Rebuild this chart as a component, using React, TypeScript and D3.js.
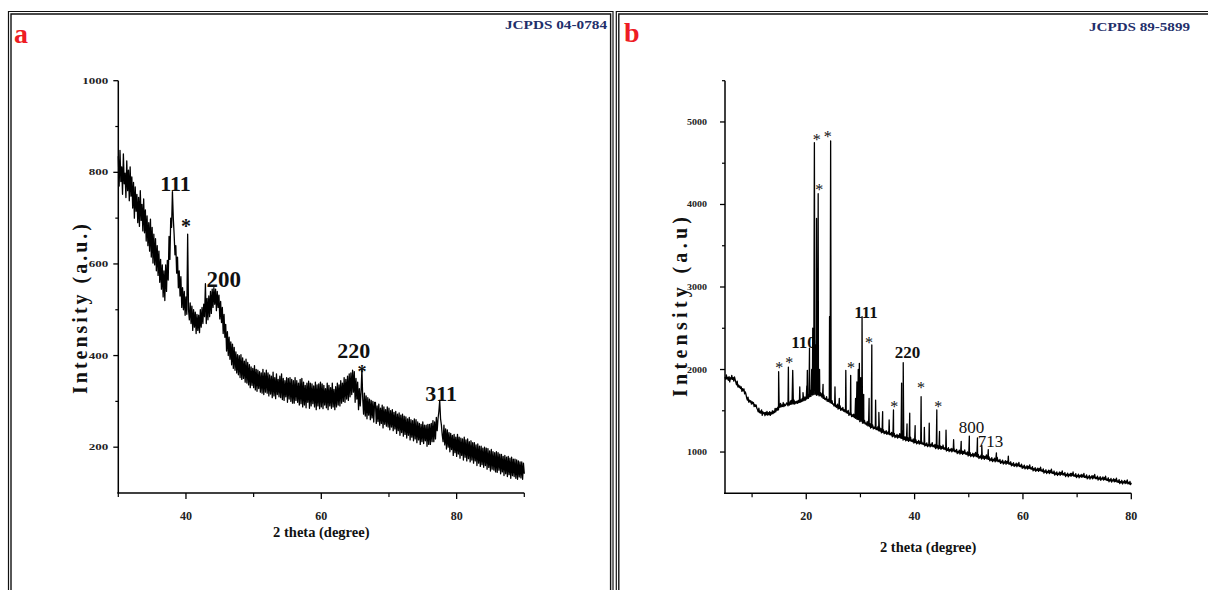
import React from 'react';
import * as d3 from 'd3';

// ---------- Panel a : XRD counts, regular 2θ grid (start 30°, step 0.125°) ----------
const A_START = 30;
const A_STEP = 0.125;
const aCounts = [
  835, 770, 848, 780, 812, 752, 840, 775, 798, 745, 825, 760, 805, 738, 812, 748,
  790, 722, 778, 700, 768, 715, 752, 690, 745, 682, 760, 695, 730, 672, 742, 668,
  718, 650, 705, 640, 690, 628, 698, 615, 680, 602, 665, 598, 655, 585, 640, 575,
  628, 560, 610, 545, 598, 528, 585, 520, 598, 540, 608, 565, 660, 610, 700, 680,
  758, 700, 665, 620, 640, 580, 615, 548, 585, 530, 572, 505, 548, 500, 540, 488,
  528, 490, 665, 500, 478, 515, 470, 508, 455, 500, 462, 495, 448, 490, 455, 488,
  450, 500, 462, 505, 470, 512, 485, 557, 470, 525, 478, 530, 485, 540, 492, 545,
  505, 548, 512, 545, 498, 540, 505, 532, 480, 518, 472, 505, 448, 490, 440, 468,
  410, 452, 400, 440, 392, 430, 380, 425, 372, 418, 368, 408, 362, 402, 358, 400,
  352, 402, 348, 395, 350, 388, 342, 392, 340, 385, 336, 380, 330, 375, 335, 372,
  330, 378, 325, 370, 322, 368, 328, 365, 320, 362, 318, 370, 315, 362, 320, 368,
  318, 362, 312, 358, 316, 355, 308, 364, 312, 352, 306, 360, 315, 348, 310, 355,
  308, 360, 304, 350, 302, 345, 310, 352, 298, 350, 305, 352, 300, 348, 296, 345,
  296, 352, 302, 345, 298, 340, 292, 348, 295, 350, 288, 342, 292, 335, 286, 340,
  298, 344, 285, 340, 290, 338, 295, 334, 288, 342, 282, 336, 290, 338, 284, 342,
  288, 338, 284, 335, 292, 328, 286, 340, 282, 335, 290, 330, 285, 340, 288, 326,
  282, 332, 288, 340, 292, 336, 290, 345, 296, 340, 300, 352, 298, 348, 305, 355,
  302, 360, 310, 362, 315, 368, 320, 365, 298, 350, 305, 342, 282, 328, 290, 320,
  370, 305, 272, 318, 268, 312, 262, 308, 270, 305, 260, 302, 264, 300, 255, 298,
  298, 252, 290, 256, 294, 248, 285, 252, 292, 242, 288, 250, 282, 246, 288, 244,
  285, 238, 280, 244, 282, 236, 276, 240, 278, 230, 272, 236, 275, 226, 270, 232,
  272, 224, 268, 228, 266, 220, 262, 226, 265, 216, 260, 222, 258, 214, 262, 218,
  260, 210, 255, 216, 252, 206, 250, 212, 255, 208, 248, 214, 248, 202, 250, 206,
  250, 206, 252, 212, 258, 212, 255, 218, 265, 236, 262, 278, 302, 262, 248, 226,
  212, 248, 205, 240, 196, 238, 200, 232, 190, 230, 195, 226, 182, 228, 188, 222,
  180, 228, 185, 222, 176, 220, 182, 218, 172, 222, 178, 216, 170, 218, 175, 212,
  168, 214, 172, 210, 165, 210, 170, 205, 160, 207, 165, 202, 158, 202, 162, 198,
  156, 200, 160, 198, 152, 197, 156, 192, 148, 195, 152, 190, 150, 188, 146, 190,
  145, 188, 150, 185, 142, 184, 146, 180, 138, 182, 142, 178, 136, 180, 140, 176,
  132, 178, 138, 174, 136, 174, 132, 172, 130, 170, 135, 168, 133, 168, 130, 165,
  142,
];
const aXTicks = [40, 60, 80];
const aXMinor = [30, 50, 70, 90];
const aYTicks = [200, 400, 600, 800, 1000];
const aYMinor = [300, 500, 700, 900];
const aLabels = [
  { t: '111', x: 38.45, y: 758.7, size: 22, bold: true },
  { t: '*', x: 40.0, y: 668.3, size: 20, bold: true },
  { t: '200', x: 45.58, y: 550.7, size: 23, bold: true },
  { t: '220', x: 64.79, y: 395, size: 22, bold: true },
  { t: '*', x: 66.0, y: 350, size: 18, bold: true },
  { t: '311', x: 77.71, y: 300.9, size: 22, bold: true },
];

// ---------- Panel b : XRD counts, regular 2θ grid (start 5°, step 0.125°) + sharp reflections ----------
const B_START = 5;
const B_STEP = 0.125;
const bCounts = [
  1910, 1882, 1935, 1885, 1905, 1870, 1915, 1850, 1900, 1884, 1928, 1880, 1902, 1860, 1912, 1878,
  1845, 1815, 1860, 1790, 1812, 1782, 1800, 1770, 1790, 1735, 1768, 1742, 1765, 1705, 1728, 1700,
  1655, 1630, 1665, 1605, 1630, 1605, 1622, 1580, 1610, 1585, 1600, 1550, 1578, 1552, 1570, 1530,
  1515, 1488, 1532, 1478, 1495, 1470, 1510, 1445, 1488, 1465, 1478, 1440, 1480, 1452, 1492, 1448,
  1478, 1452, 1490, 1445, 1480, 1460, 1500, 1465, 1495, 1478, 1530, 1488, 1528, 1505, 1545, 1512,
  1565, 1540, 1590, 1548, 1572, 1552, 1600, 1550, 1580, 1562, 1575, 1595, 1582, 1560, 1600, 1570,
  1600, 1578, 1625, 1582, 1605, 1585, 1630, 1580, 1610, 1592, 1615, 1590, 1625, 1598, 1640, 1602,
  1632, 1610, 1650, 1618, 1645, 1625, 1668, 1630, 1662, 1645, 1690, 1650, 1688, 1668, 1712, 1675,
  1712, 1690, 1735, 1695, 1718, 1700, 1740, 1688, 1712, 1692, 1725, 1680, 1700, 1682, 1712, 1665,
  1672, 1650, 1690, 1640, 1650, 1632, 1670, 1615, 1635, 1612, 1650, 1600, 1612, 1590, 1622, 1580,
  1582, 1558, 1600, 1550, 1565, 1540, 1580, 1520, 1545, 1525, 1560, 1505, 1530, 1508, 1540, 1495,
  1512, 1488, 1530, 1475, 1495, 1470, 1505, 1445, 1470, 1452, 1485, 1430, 1452, 1430, 1460, 1418,
  1432, 1408, 1450, 1395, 1415, 1392, 1428, 1368, 1392, 1372, 1405, 1350, 1372, 1350, 1385, 1340,
  1352, 1328, 1370, 1318, 1335, 1312, 1345, 1290, 1318, 1298, 1330, 1280, 1302, 1285, 1315, 1272,
  1292, 1268, 1310, 1258, 1275, 1252, 1288, 1232, 1258, 1240, 1270, 1222, 1248, 1228, 1260, 1215,
  1242, 1218, 1262, 1210, 1225, 1205, 1238, 1185, 1210, 1192, 1225, 1175, 1200, 1182, 1215, 1170,
  1202, 1178, 1222, 1170, 1185, 1165, 1198, 1145, 1170, 1152, 1185, 1135, 1160, 1142, 1175, 1130,
  1162, 1138, 1180, 1130, 1145, 1125, 1158, 1108, 1132, 1115, 1148, 1100, 1125, 1108, 1140, 1095,
  1127, 1103, 1145, 1095, 1110, 1090, 1122, 1072, 1098, 1080, 1112, 1065, 1090, 1075, 1105, 1062,
  1097, 1073, 1115, 1065, 1080, 1060, 1092, 1042, 1068, 1050, 1082, 1035, 1060, 1045, 1075, 1032,
  1067, 1043, 1085, 1035, 1050, 1030, 1062, 1012, 1038, 1020, 1052, 1005, 1030, 1015, 1045, 1002,
  1037, 1013, 1055, 1005, 1020, 1000, 1032, 982, 1008, 990, 1022, 975, 1000, 985, 1015, 972,
  1007, 983, 1025, 975, 990, 970, 1002, 952, 978, 960, 992, 945, 970, 955, 985, 942,
  977, 953, 995, 945, 960, 940, 972, 922, 948, 930, 962, 915, 940, 925, 955, 912,
  947, 923, 965, 915, 930, 910, 942, 892, 918, 900, 932, 885, 910, 895, 925, 882,
  917, 893, 935, 885, 900, 880, 912, 862, 888, 870, 902, 855, 880, 865, 895, 852,
  887, 863, 905, 855, 870, 850, 882, 832, 858, 840, 872, 825, 850, 835, 865, 822,
  857, 833, 875, 825, 840, 820, 852, 802, 828, 810, 842, 795, 820, 805, 835, 792,
  827, 803, 845, 795, 810, 790, 822, 772, 798, 780, 812, 765, 792, 778, 806, 765,
  800, 776, 818, 768, 783, 763, 795, 745, 771, 755, 785, 740, 766, 752, 780, 740,
  774, 750, 792, 742, 757, 738, 770, 720, 747, 730, 760, 716, 742, 730, 758, 718,
  754, 730, 772, 722, 738, 720, 752, 702, 730, 715, 745, 700, 728, 715, 742, 705,
  740, 716, 758, 708, 722, 705, 738, 690, 716, 702, 732, 688, 715, 702, 730, 692,
  724, 700, 742, 692, 706, 690, 722, 675, 700, 688, 718, 672, 700, 688, 715, 676,
  710, 686, 728, 678, 692, 676, 708, 660, 686, 672, 702, 656, 684, 672, 698, 660,
  690, 666, 708, 658, 672, 655, 688, 640, 666, 650, 680, 635, 662, 650, 676, 640,
  667, 643, 685, 635, 650, 632, 665, 617, 643, 628, 658, 613, 640, 628, 655, 618,
  647, 623, 662, 615, 632, 612, 645, 605, 628,
];
// [2θ, counts] sharp reflections (and the valleys between close ones)
const bPeaks: [number, number][] = [
  [14.9, 1973],
  [16.7, 2030], [17.1, 1620], [17.5, 1990],
  [18.8, 1790],
  [19.4, 1720],
  [20.1, 1800], [20.2, 1990], [20.4, 1700], [20.6, 2260],
  [20.8, 1750], [21.0, 2000], [21.1, 1780], [21.2, 2500],
  [21.35, 1850], [21.5, 4750], [21.6, 1900], [21.7, 2300], [21.8, 1850],
  [21.9, 3830], [22.05, 1800], [22.2, 4130], [22.35, 1750], [22.45, 2000], [22.6, 1720],
  [23.1, 1820],
  [24.1, 1640], [24.3, 2640], [24.4, 1650], [24.5, 4770], [24.6, 1620],
  [25.3, 1790],
  [26.1, 1650],
  [27.3, 1990],
  [28.2, 1930],
  [29.1, 1650], [29.2, 1500], [29.35, 1850], [29.45, 1480], [29.6, 2000],
  [29.7, 1450], [29.8, 2075], [29.9, 1480], [30.05, 1900], [30.15, 1460],
  [30.3, 2640],
  [30.6, 1700],
  [31.6, 1650],
  [32.1, 2297],
  [32.8, 1630],
  [33.4, 1480],
  [34.1, 1490],
  [35.3, 1390],
  [36.1, 1510],
  [37.6, 1836], [37.75, 1250], [37.9, 2082],
  [38.6, 1340],
  [39.1, 1470],
  [40.1, 1320],
  [41.2, 1670],
  [41.8, 1300],
  [42.7, 1350],
  [44.1, 1510],
  [44.6, 1250],
  [45.8, 1266],
  [47.2, 1150],
  [48.6, 1130],
  [50.1, 1194],
  [51.6, 1170],
  [52.4, 1080],
  [53.6, 1030],
  [55.1, 990],
  [57.3, 950],
];
const bXTicks = [20, 40, 60, 80];
const bXMinor = [10, 30, 50, 70];
const bYTicks = [1000, 2000, 3000, 4000, 5000];
const bYMinor = [1500, 2500, 3500, 4500, 5500];
const bLabels = [
  { t: '*', x: 15.0, y: 1957, size: 16, bold: false },
  { t: '*', x: 16.87, y: 2018, size: 16, bold: false },
  { t: '*', x: 21.93, y: 4724, size: 16, bold: false },
  { t: '*', x: 23.96, y: 4757, size: 16, bold: false },
  { t: '*', x: 22.41, y: 4111, size: 16, bold: false },
  { t: '*', x: 28.26, y: 1957, size: 16, bold: false },
  { t: '*', x: 31.58, y: 2260, size: 16, bold: false },
  { t: '*', x: 36.25, y: 1485, size: 16, bold: false },
  { t: '*', x: 41.18, y: 1715, size: 16, bold: false },
  { t: '*', x: 44.38, y: 1485, size: 16, bold: false },
  { t: '110', x: 19.49, y: 2260, size: 17, bold: true },
  { t: '111', x: 31.03, y: 2624, size: 17, bold: true },
  { t: '220', x: 38.69, y: 2139, size: 17, bold: true },
  { t: '800', x: 50.5, y: 1230, size: 17, bold: false },
  { t: '713', x: 54.0, y: 1060, size: 17, bold: false },
];

const SERIF = '"Liberation Serif", "Times New Roman", serif';

type PanelProps = {
  xs: d3.ScaleLinear<number, number>;
  ys: d3.ScaleLinear<number, number>;
  pts: [number, number][];
  xTicks: number[];
  xMinor: number[];
  yTicks: number[];
  yMinor: number[];
  labels: { t: string; x: number; y: number; size: number; bold: boolean }[];
  yTitle: string;
  yTitleX: number;
  yTitleLen: number;
  yTitleCy: number;
  xTitleY: number;
  yLabelGap: number;
  yLabelSize: number;
  yLabelSy: number;
  lineW: number;
};

function Panel(p: PanelProps) {
  const { xs, ys } = p;
  const [x0, x1] = xs.range();
  const [y0, y1] = ys.range();
  const line = d3
    .line<[number, number]>()
    .x((d) => xs(d[0]))
    .y((d) => ys(d[1]));
  const xMid = (x0 + x1) / 2;
  return (
    <g>
      {p.labels.map((l, i) => (
        <text
          key={'l' + i}
          x={xs(l.x)}
          y={ys(l.y)}
          textAnchor="middle"
          fontFamily={SERIF}
          fontWeight={l.bold ? 'bold' : 'normal'}
          fontSize={l.size}
          fill="#111"
        >
          {l.t}
        </text>
      ))}
      <path d={line(p.pts) || ''} fill="none" stroke="#000" strokeWidth={p.lineW} strokeLinejoin="round" />
      {/* axes */}
      <line x1={x0} x2={x0} y1={y0} y2={y1} stroke="#000" strokeWidth={1.5} />
      <line x1={x0 - 1} x2={x1} y1={y0} y2={y0} stroke="#000" strokeWidth={1.5} />
      {p.yTicks.map((t) => (
        <g key={'yt' + t}>
          <line x1={x0} x2={x0 - 5} y1={ys(t)} y2={ys(t)} stroke="#000" strokeWidth={1.3} />
          <text
            transform={`translate(${x0 - p.yLabelGap},${ys(t) + 3}) scale(1,${p.yLabelSy})`}
            textAnchor="end"
            fontFamily={SERIF}
            fontWeight="bold"
            fontSize={p.yLabelSize}
            fill="#222"
          >
            {t}
          </text>
        </g>
      ))}
      {p.yMinor.map((t) => (
        <line key={'ym' + t} x1={x0} x2={x0 - 3} y1={ys(t)} y2={ys(t)} stroke="#000" strokeWidth={1.2} />
      ))}
      {p.xTicks.map((t) => (
        <g key={'xt' + t}>
          <line x1={xs(t)} x2={xs(t)} y1={y0} y2={y0 + 6} stroke="#000" strokeWidth={1.3} />
          <text x={xs(t)} y={520} textAnchor="middle" fontFamily={SERIF} fontWeight="bold" fontSize={12} fill="#222">
            {t}
          </text>
        </g>
      ))}
      {p.xMinor.map((t) => (
        <line key={'xm' + t} x1={xs(t)} x2={xs(t)} y1={y0} y2={y0 + 4} stroke="#000" strokeWidth={1.2} />
      ))}
      <text
        transform={`translate(${p.yTitleX},${p.yTitleCy}) rotate(-90)`}
        textAnchor="middle"
        fontFamily={SERIF}
        fontWeight="bold"
        fontSize={20}
        textLength={p.yTitleLen}
        lengthAdjust="spacing"
        fill="#111"
      >
        {p.yTitle}
      </text>
      <text x={xMid + 0} y={p.xTitleY} textAnchor="middle" fontFamily={SERIF} fontWeight="bold" fontSize={14.5} fill="#111">
        2 theta (degree)
      </text>
    </g>
  );
}

export default function App() {
  const xA = d3.scaleLinear().domain([30, 90]).range([118.3, 524.3]);
  const yA = d3.scaleLinear().domain([100, 1000]).range([493, 80.7]);
  const xB = d3.scaleLinear().domain([5, 80]).range([725, 1131.3]);
  const yB = d3.scaleLinear().domain([500, 5500]).range([493.3, 80.7]);

  const aPts: [number, number][] = aCounts.map((c, i) => [A_START + i * A_STEP, c]);

  const merged = new Map<string, [number, number]>();
  bCounts.forEach((c, i) => {
    const a = B_START + i * B_STEP;
    merged.set(a.toFixed(3), [a, c]);
  });
  bPeaks.forEach((p) => merged.set(p[0].toFixed(3), p));
  const bPts = Array.from(merged.values()).sort((u, v) => u[0] - v[0]);

  return (
    <svg
      width={1208}
      height={590}
      style={{ position: 'absolute', left: 0, top: 0, background: '#fff' }}
    >
      <rect x={0} y={0} width={1208} height={590} fill="#fff" />
      {/* frames (double lines) */}
      <path d="M8.5,592 V11.5 H613 V592" fill="none" stroke="#111" strokeWidth={1.2} />
      <path d="M11,592 V14 H610.6 V592" fill="none" stroke="#111" strokeWidth={1.4} />
      <path d="M616.3,592 V11.5 H1210" fill="none" stroke="#111" strokeWidth={1.2} />
      <path d="M618.8,592 V14 H1210" fill="none" stroke="#111" strokeWidth={1.4} />

      <text x={14} y={43} fontFamily={SERIF} fontWeight="bold" fontSize={28} fill="#ee1c24">a</text>
      <text x={624} y={42} fontFamily={SERIF} fontWeight="bold" fontSize={28} fill="#ee1c24">b</text>
      <text x={505} y={29} fontFamily={SERIF} fontWeight="bold" fontSize={13} fill="#1f2f6b" textLength={102} lengthAdjust="spacingAndGlyphs">JCPDS 04-0784</text>
      <text x={1089} y={31} fontFamily={SERIF} fontWeight="bold" fontSize={13} fill="#1f2f6b" textLength={101} lengthAdjust="spacingAndGlyphs">JCPDS 89-5899</text>

      <Panel
        xs={xA}
        ys={yA}
        pts={aPts}
        xTicks={aXTicks}
        xMinor={aXMinor}
        yTicks={aYTicks}
        yMinor={aYMinor}
        labels={aLabels}
        yTitle="Intensity (a.u.)"
        yTitleX={87}
        yTitleLen={170}
        yTitleCy={309}
        xTitleY={537}
        yLabelGap={10}
        yLabelSize={13}
        yLabelSy={0.7}
        lineW={1.3}
      />
      <Panel
        xs={xB}
        ys={yB}
        pts={bPts}
        xTicks={bXTicks}
        xMinor={bXMinor}
        yTicks={bYTicks}
        yMinor={bYMinor}
        labels={bLabels}
        yTitle="Intensity (a.u)"
        yTitleX={687}
        yTitleLen={180}
        yTitleCy={307}
        xTitleY={552}
        yLabelGap={18}
        yLabelSize={10}
        yLabelSy={0.9}
        lineW={1.3}
      />
    </svg>
  );
}
